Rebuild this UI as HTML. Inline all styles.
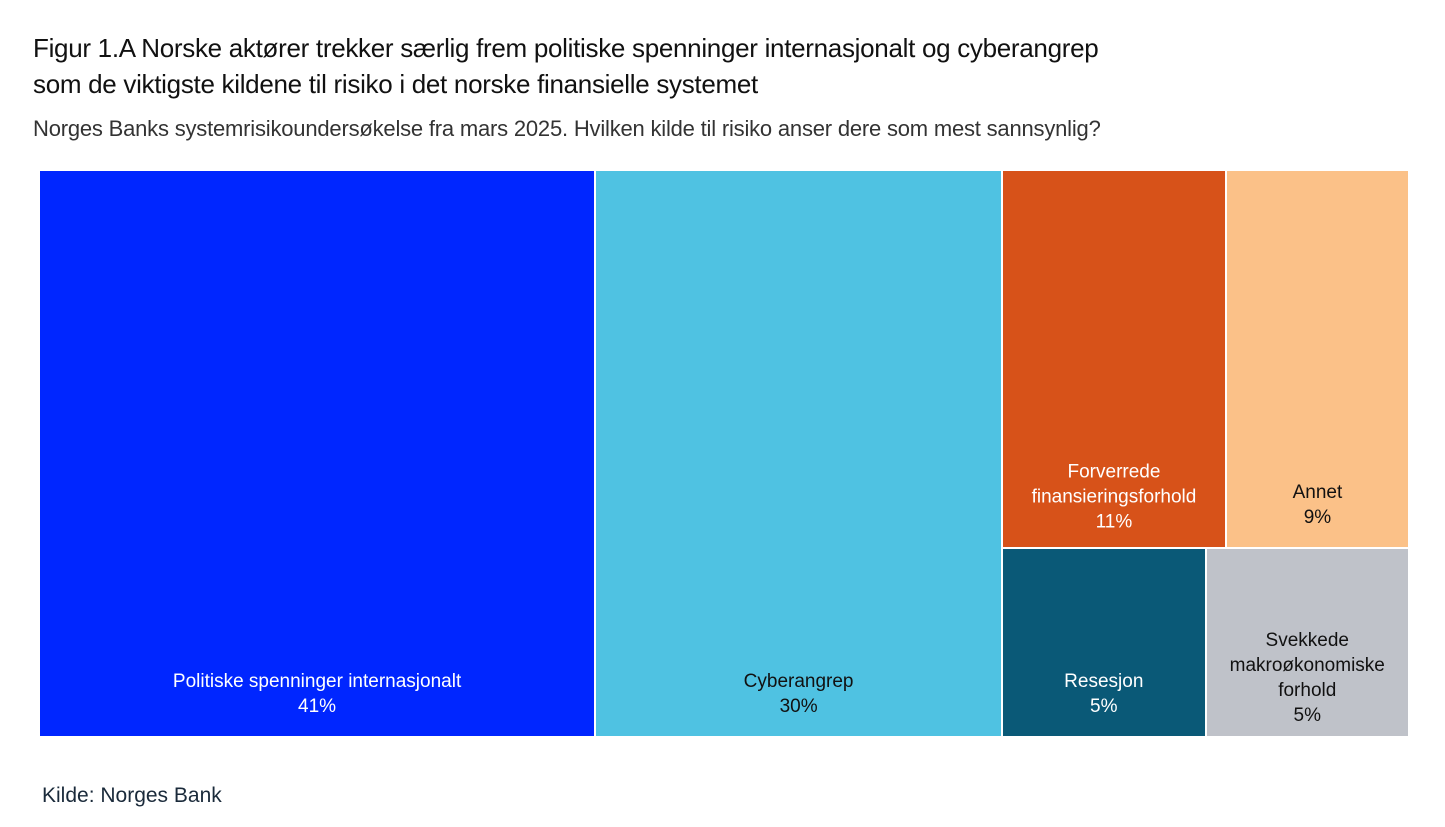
<!DOCTYPE html>
<html><head><meta charset="utf-8">
<style>
body{margin:0;width:1445px;height:827px;background:#fff;font-family:"Liberation Sans",sans-serif;overflow:hidden;position:relative}
#title{position:absolute;left:33px;top:30px;font-size:26px;line-height:36px;color:#111;letter-spacing:-0.3px}
#sub{position:absolute;left:33px;top:116px;font-size:22px;color:#333;letter-spacing:-0.2px}
#src{position:absolute;left:42px;top:784px;font-size:21px;color:#1a2a3a}
.cell{position:absolute;box-sizing:border-box}
.lbl{position:absolute;left:0;right:0;text-align:center;font-size:19px;line-height:25px;transform:translateY(-50%)}
</style></head><body>
<div id="title">Figur 1.A Norske aktører trekker særlig frem politiske spenninger internasjonalt og cyberangrep<br>som de viktigste kildene til risiko i det norske finansielle systemet</div>
<div id="sub">Norges Banks systemrisikoundersøkelse fra mars 2025. Hvilken kilde til risiko anser dere som mest sannsynlig?</div>
<div id="tm"></div>
<div id="src">Kilde: Norges Bank</div>
<script>
const categories=["Politiske spenninger internasjonalt","Cyberangrep","Forverrede finansieringsforhold","Annet","Resesjon","Svekkede makroøkonomiske forhold"];
const labelLines=[["Politiske spenninger internasjonalt"],["Cyberangrep"],["Forverrede","finansieringsforhold"],["Annet"],["Resesjon"],["Svekkede","makroøkonomiske","forhold"]];
const values=[41,30,11,9,5,5];
const printed=["41%","30%","11%","9%","5%","5%"];
const colors=["#0026ff","#4fc2e2","#d75219","#fbc188","#0a5977","#bfc2c9"];
const textColors=["#fff","#111","#fff","#111","#fff","#111"];
const X0=40,Y0=171,W=1370,H=567,GAP=2;
const total=values.reduce((a,b)=>a+b,0);
const rects=[];
let x=X0;
// first two as full-height columns
for(let i=0;i<2;i++){const w=W*values[i]/total;rects.push([x,Y0,w,H]);x+=w;}
const restW=X0+W-x;
const rowsIdx=[[2,3],[4,5]];
const restTotal=values.slice(2).reduce((a,b)=>a+b,0);
let y=Y0;
rowsIdx.forEach(r=>{const s=r.reduce((a,i)=>a+values[i],0);const h=H*s/restTotal;let xx=x;
 r.forEach(i=>{const w=restW*values[i]/s;rects[i]=[xx,y,w,h];xx+=w;});y+=h;});
const tm=document.getElementById('tm');
values.forEach((v,i)=>{
 const [rx,ry,rw,rh]=rects[i];
 const d=document.createElement('div');
 d.className='cell';
 
 
 d.style.left=rx+'px';d.style.top=ry+'px';d.style.width=(rw-GAP)+'px';d.style.height=(rh-GAP)+'px';
 d.style.background=colors[i];
 const l=document.createElement('div');
 l.className='lbl';
 
 
 l.style.color=textColors[i];
 const n=labelLines[i].length+1;
 l.style.top=(rh-GAP-42-(n-2)*8)+'px';
 l.innerHTML=labelLines[i].join('<br>')+'<br>'+printed[i];
 d.appendChild(l);tm.appendChild(d);
});
</script>
</body></html>
